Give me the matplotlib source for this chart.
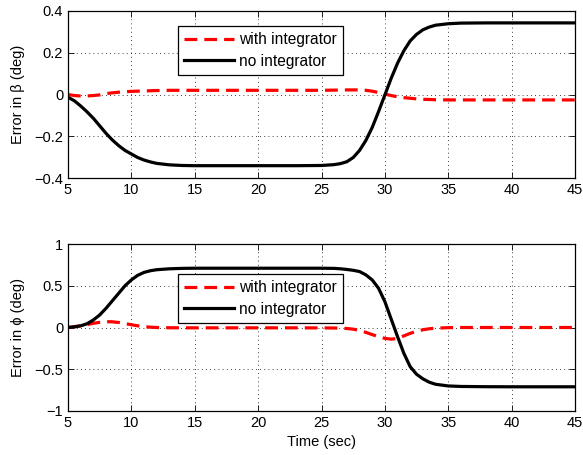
import numpy as np
import matplotlib
matplotlib.use("Agg")
import matplotlib.pyplot as plt

plt.rcParams['font.family'] = ['Liberation Sans', 'DejaVu Sans']

# sample times (sec)
t = [5, 5.5, 6, 6.5, 7, 7.5, 8, 8.5, 9, 9.5, 10, 10.5, 11, 11.5, 12, 13, 14, 15, 17, 20,
     23, 25, 26, 26.5, 27, 27.5, 28, 28.5, 29, 29.5, 30, 30.5, 31, 31.5, 32, 32.5, 33, 33.5,
     34, 35, 36, 38, 40, 42, 45]

# error in beta (deg)
beta_int = [0.0, -0.005, -0.007, -0.007, -0.005, -0.002, 0.004, 0.008, 0.011, 0.013, 0.015,
            0.016, 0.017, 0.018, 0.019, 0.02, 0.02, 0.02, 0.02, 0.02,
            0.02, 0.02, 0.021, 0.021, 0.022, 0.022, 0.022, 0.02, 0.016, 0.009, 0.002, -0.005,
            -0.011, -0.015, -0.018, -0.021, -0.023, -0.024, -0.025, -0.026, -0.026, -0.026,
            -0.026, -0.026, -0.026]
beta_noint = [-0.013, -0.03, -0.055, -0.083, -0.114, -0.15, -0.186, -0.218, -0.245, -0.268,
              -0.285, -0.302, -0.314, -0.323, -0.33, -0.337, -0.34, -0.341, -0.341, -0.341,
              -0.341, -0.34, -0.336, -0.331, -0.322, -0.302, -0.268, -0.22, -0.158, -0.082,
              -0.002, 0.078, 0.15, 0.21, 0.257, 0.288, 0.31, 0.323, 0.332, 0.339, 0.342, 0.343,
              0.343, 0.343, 0.343]

# error in phi (deg)
phi_int = [0.0, 0.01, 0.02, 0.035, 0.05, 0.062, 0.07, 0.068, 0.06, 0.047, 0.033, 0.02, 0.01,
           0.004, 0.0, -0.003, -0.004, -0.004, -0.004, -0.004,
           -0.004, -0.005, -0.006, -0.008, -0.012, -0.02, -0.035, -0.058, -0.085, -0.11, -0.13,
           -0.14, -0.13, -0.1, -0.07, -0.045, -0.027, -0.015, -0.008, -0.002, 0.0, 0.0, 0.0,
           0.0, 0.0]
phi_noint = [0.0, 0.008, 0.02, 0.045, 0.09, 0.15, 0.23, 0.32, 0.41, 0.5, 0.57, 0.625, 0.66,
             0.68, 0.692, 0.703, 0.708, 0.71, 0.71, 0.71,
             0.71, 0.71, 0.708, 0.703, 0.695, 0.685, 0.67, 0.63, 0.57, 0.47, 0.31, 0.1, -0.11,
             -0.31, -0.47, -0.56, -0.615, -0.655, -0.68, -0.7, -0.706, -0.709, -0.71, -0.71,
             -0.71]

xticks = [5, 10, 15, 20, 25, 30, 35, 40, 45]
leg_labels = ['with integrator', 'no integrator']

fig = plt.figure(figsize=(5.83, 4.55), dpi=100)
ax1 = fig.add_axes([68 / 583, 1 - 178 / 455, 507 / 583, 167 / 455])
ax2 = fig.add_axes([68 / 583, 1 - 411 / 455, 507 / 583, 167 / 455])

panels = [
    (ax1, beta_int, beta_noint, 'Error in β (deg)', (-0.4, 0.4), [-0.4, -0.2, 0, 0.2, 0.4],
     ['\u22120.4', '\u22120.2', '0', '0.2', '0.4'], 1 - 26 / 455),
    (ax2, phi_int, phi_noint, 'Error in ϕ (deg)', (-1, 1), [-1, -0.5, 0, 0.5, 1],
     ['\u22121', '\u22120.5', '0', '0.5', '1'], 1 - 274 / 455),
]

for ax, y_int, y_noint, ylab, ylim, yt, ytl, leg_top in panels:
    ax.plot(t, y_int, color='red', linestyle=(0, (4, 2.2)), linewidth=2.3, label=leg_labels[0])
    ax.plot(t, y_noint, color='black', linewidth=2.3, label=leg_labels[1])
    ax.set_xlim(5, 45)
    ax.set_ylim(*ylim)
    ax.set_xticks(xticks)
    ax.set_yticks(yt)
    ax.set_yticklabels(ytl)
    ax.grid(True, color='black', linestyle=(0, (1, 4)), linewidth=0.6)
    ax.tick_params(direction='in', length=4, labelsize=10.5, top=True, right=True, width=0.6)
    for s in ax.spines.values():
        s.set_linewidth(0.9)
    ax.set_ylabel(ylab, fontsize=10.5, labelpad=7)
    leg = ax.legend(loc='upper left', bbox_to_anchor=(178 / 583, leg_top),
                    bbox_transform=fig.transFigure, fontsize=11.2, fancybox=False,
                    framealpha=1, edgecolor='black', handlelength=3.2, handletextpad=0.3,
                    borderpad=0.4, labelspacing=0.42, borderaxespad=0)
    leg.get_frame().set_linewidth(0.9)

ax2.set_xlabel('Time (sec)', fontsize=10.5, labelpad=4)

fig.savefig('out.png', dpi=100)
